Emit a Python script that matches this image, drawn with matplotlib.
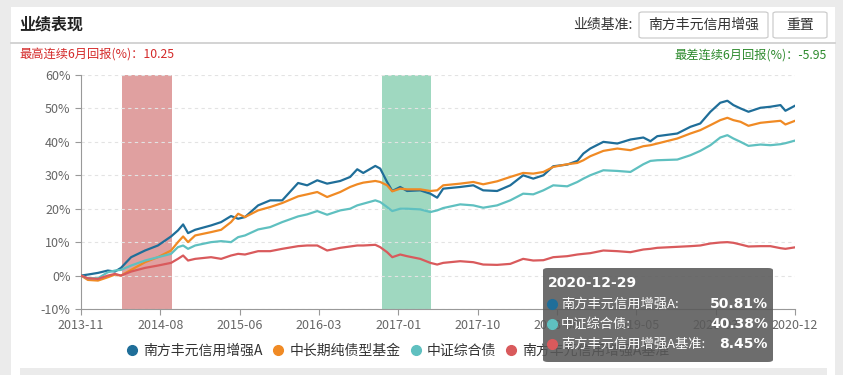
import matplotlib
matplotlib.use("Agg")
import matplotlib.pyplot as plt
import matplotlib.dates as mdates
from matplotlib.patches import FancyBboxPatch, Rectangle
import numpy as np
import pandas as pd

plt.rcParams["font.family"] = ["Noto Sans CJK SC", "DejaVu Sans"]

dates = [
    "2013-11-08", "2013-12-03", "2014-01-09", "2014-02-14", "2014-03-12", "2014-04-03",
    "2014-05-10", "2014-06-30", "2014-08-16", "2014-10-03", "2014-10-28", "2014-11-16",
    "2014-12-04", "2014-12-30", "2015-02-26", "2015-04-04", "2015-05-10", "2015-06-05",
    "2015-06-30", "2015-08-17", "2015-09-30", "2015-11-13", "2016-01-10", "2016-02-12",
    "2016-03-20", "2016-04-25", "2016-06-12", "2016-07-18", "2016-08-13", "2016-09-04",
    "2016-10-18", "2016-11-05", "2016-11-30", "2016-12-19", "2017-01-17", "2017-02-11",
    "2017-03-31", "2017-05-07", "2017-06-01", "2017-06-23", "2017-08-24", "2017-10-11",
    "2017-11-16", "2018-01-06", "2018-02-23", "2018-04-11", "2018-05-18", "2018-06-24",
    "2018-07-30", "2018-09-19", "2018-10-26", "2018-11-17", "2018-12-12", "2019-01-29",
    "2019-03-21", "2019-05-08", "2019-06-24", "2019-07-20", "2019-08-14", "2019-10-26",
    "2019-12-13", "2020-01-18", "2020-02-24", "2020-03-31", "2020-04-26", "2020-05-18",
    "2020-06-13", "2020-07-12", "2020-08-25", "2020-09-30", "2020-11-06", "2020-11-24",
    "2020-12-29",
]

fund_a = [
    0, 0.3, 0.8, 1.5, 1.2, 2.3, 5.5, 7.5, 9, 11.7, 13.5, 15.3,
    12.7, 13.7, 15, 16, 17.8, 17, 17.5, 21, 22.5, 22.5, 27.7, 27,
    28.5, 27.5, 28.3, 29.5, 31.8, 30.7, 32.8, 32, 28, 25.3, 26.5, 25.3,
    25.5, 24.5, 23.3, 26, 26.5, 27, 25.5, 25.3, 27, 30, 29, 30,
    32.7, 33.2, 34.3, 36.5, 38, 40, 39.5, 40.7, 41.3, 40.2, 41.7, 42.5,
    44.5, 45.5, 49, 51.7, 52.3, 51, 50, 49, 50.2, 50.5, 51, 49.3,
    50.81,
]
bond_funds = [
    0, -1.3, -1.5, -0.5, 0.3, 0, 1.7, 4, 5.5, 7.5, 10, 11.7,
    10, 12, 13, 13.7, 16, 18.5, 17.5, 19.5, 20.5, 21.7, 23.7, 24.3,
    25, 23.5, 25, 26.5, 27.3, 27.8, 28.3, 28, 27, 25.2, 26, 25.8,
    25.8, 25.3, 25.5, 27, 27.5, 28, 27.3, 28.2, 29.5, 30.7, 30.5, 31,
    32.5, 33.3, 33.7, 34.5, 35.7, 37.3, 38, 37.5, 38.7, 39, 39.5, 41,
    42.5, 43.5, 45, 46.5, 47.2, 46.5, 46, 44.8, 45.7, 46, 46.3, 45.2,
    46.3,
]
bond_index = [
    0, -0.8, -0.8, 1, 1.5, 1.7, 3, 4.5, 5.5, 6.5, 8.5, 9,
    8, 9, 10, 10.3, 10, 11.5, 12, 13.8, 14.5, 16, 17.7, 18.3,
    19.3, 18.2, 19.5, 20, 21, 21.5, 22.5, 22, 20.5, 19.3, 20, 20,
    19.8, 19, 19.5, 20.2, 21.3, 21, 20.3, 21, 22.5, 24.5, 24.3, 25.5,
    27, 26.7, 28, 29, 30, 31.5, 31.3, 31, 33.3, 34.3, 34.5, 34.7,
    36, 37.3, 39, 41.3, 42, 41, 40, 38.8, 39.2, 39, 39.3, 39.6,
    40.38,
]
benchmark = [
    0, -0.8, -1, 0, 0.5, 0, 1.2, 2.3, 3, 3.8, 5, 6,
    4.5, 5, 5.5, 5, 6, 6.5, 6.3, 7.3, 7.3, 8, 8.8, 9,
    9, 7.5, 8.3, 8.7, 9, 9, 9.2, 8.5, 7, 5.5, 6.3, 5.8,
    5, 3.8, 3.3, 3.8, 4.3, 4, 3.3, 3.2, 3.5, 5, 4.5, 4.6,
    5.5, 5.8, 6.3, 6.5, 6.7, 7.5, 7.3, 7, 7.8, 8, 8.3, 8.6,
    8.8, 9, 9.6, 9.9, 10, 9.8, 9.3, 8.7, 8.8, 8.8, 8.2, 8,
    8.45,
]

names = ["南方丰元信用增强A", "中长期纯债型基金", "中证综合债", "南方丰元信用增强A基准"]
colors = ["#1f6e99", "#f08a24", "#5fc0c0", "#d95a5c"]

best_period = ("2014-04-08", "2014-10-08")
worst_period = ("2016-11-10", "2017-05-10")

tip_date = "2020-12-29"
tip_names = ["南方丰元信用增强A:", "中证综合债:", "南方丰元信用增强A基准:"]
tip_values = ["50.81%", "40.38%", "8.45%"]
tip_colors = [colors[0], colors[2], colors[3]]

x = pd.to_datetime(dates)

fig = plt.figure(figsize=(8.43, 3.75), dpi=100)
fig.patch.set_facecolor("#ebebeb")
W, H = 843, 375


def fx(px):
    return px / W


def fy(py):
    return 1 - py / H


# white card
fig.add_artist(Rectangle((fx(11), 0), fx(835 - 11), (375 - 7) / H,
                         transform=fig.transFigure, facecolor="white", edgecolor="none", zorder=0))
fig.add_artist(Rectangle((fx(20), 0), fx(827 - 20), 7 / H,
                         transform=fig.transFigure, facecolor="#ebebeb", edgecolor="none", zorder=0))
# header
fig.text(fx(19), fy(25), "业绩表现", fontsize=11.5, fontweight="bold", va="center", color="#222222")
fig.add_artist(plt.Line2D([fx(11), fx(835)], [fy(42.5), fy(42.5)], transform=fig.transFigure,
                          color="#cccccc", lw=1.2))
fig.text(fx(633), fy(25), "业绩基准:", fontsize=10, va="center", ha="right", color="#333333")
for bx0, bx1, label in [(639, 768, "南方丰元信用增强"), (773, 827, "重置")]:
    fig.add_artist(FancyBboxPatch((fx(bx0), fy(38)), fx(bx1 - bx0), 26 / H,
                                  boxstyle="round,pad=0,rounding_size=0.004",
                                  transform=fig.transFigure, facecolor="white",
                                  edgecolor="#cccccc", lw=0.9))
    fig.text(fx((bx0 + bx1) / 2), fy(25), label, fontsize=10, va="center", ha="center", color="#333333")
fig.text(fx(19), fy(55), "最高连续6月回报(%)：10.25", fontsize=8.8, va="center", color="#d42a2a")
fig.text(fx(827), fy(55), "最差连续6月回报(%)：-5.95", fontsize=8.8, va="center", ha="right", color="#2d8a2d")

ax = fig.add_axes([fx(81), fy(309), fx(795 - 81), (309 - 75) / H])
ax.set_facecolor("none")

ax.axvspan(pd.Timestamp(best_period[0]), pd.Timestamp(best_period[1]), color="#e0a0a0", lw=0, zorder=1)
ax.axvspan(pd.Timestamp(worst_period[0]), pd.Timestamp(worst_period[1]), color="#9fd8c0", lw=0, zorder=1)

series = [fund_a, bond_funds, bond_index, benchmark]
for vals, name, c in zip(series, names, colors):
    ax.plot(x, vals, color=c, lw=1.6, label=name, zorder=3)

ax.set_xlim(x[0], x[-1])
ax.set_ylim(-10, 60)
ax.set_yticks(np.arange(-10, 61, 10))
ax.set_yticklabels([f"{v}%" for v in range(-10, 61, 10)])
xt = np.linspace(mdates.date2num(x[0]), mdates.date2num(x[-1]), 10)
ax.set_xticks(xt)
ax.xaxis.set_major_formatter(mdates.DateFormatter("%Y-%m"))
ax.grid(axis="y", color="#e3e3e3", ls=(0, (3, 3)), lw=0.8, zorder=0)
for s in ["top", "right"]:
    ax.spines[s].set_visible(False)
for s in ["left", "bottom"]:
    ax.spines[s].set_color("#999999")
ax.tick_params(colors="#999999", labelcolor="#666666", labelsize=9, length=4, width=0.8)
ax.tick_params(axis="x", pad=3)

leg = fig.legend(loc="center", bbox_to_anchor=(fx(399), fy(351)), ncol=4, frameon=False,
                 fontsize=10, handlelength=0.6, handletextpad=0.5, columnspacing=0.8)
for h, c in zip(leg.legend_handles, colors):
    h.set_linestyle("none")
    h.set_marker("o")
    h.set_markersize(7)
    h.set_markerfacecolor(c)
    h.set_markeredgecolor(c)
for t in leg.get_texts():
    t.set_color("#333333")

# tooltip
fig.add_artist(FancyBboxPatch((fx(543), fy(362)), fx(773 - 543), (362 - 268) / H,
                              boxstyle="round,pad=0,rounding_size=0.006",
                              transform=fig.transFigure, facecolor="#595959", alpha=0.88,
                              edgecolor="none", zorder=10))
fig.text(fx(548), fy(283), tip_date, fontsize=10, fontweight="bold", color="white",
         va="center", zorder=11, family=["DejaVu Sans"])
for i, (n, v, c) in enumerate(zip(tip_names, tip_values, tip_colors)):
    yy = 304 + i * 20
    fig.add_artist(plt.Line2D([fx(552)], [fy(yy)], marker="o", ms=7, color=c,
                              transform=fig.transFigure, zorder=11))
    fig.text(fx(561), fy(yy), n, fontsize=9.5, color="white", va="center", zorder=11)
    fig.text(fx(768), fy(yy), v, fontsize=10, fontweight="bold", color="white", va="center",
             ha="right", zorder=11, family=["DejaVu Sans"])

fig.savefig("out.png", dpi=100, facecolor=fig.get_facecolor())
